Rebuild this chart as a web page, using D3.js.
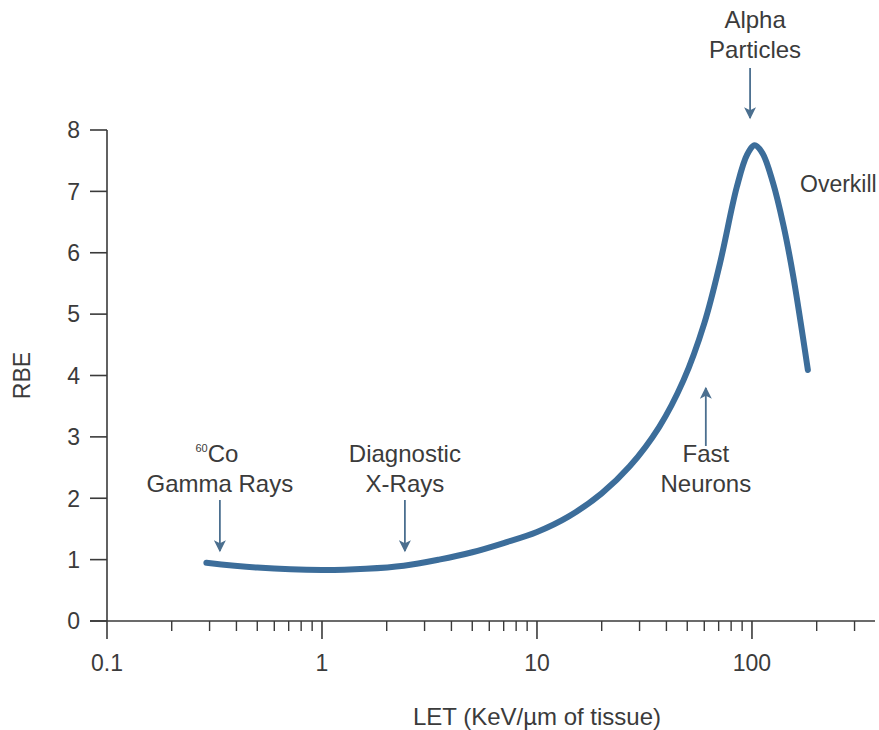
<!DOCTYPE html>
<html>
<head>
<meta charset="utf-8">
<script src="https://cdn.jsdelivr.net/npm/d3@7"></script>
<style>
  body { margin: 0; background: #fff; }
  text { font-family: "Liberation Sans", Arial, Helvetica, sans-serif; fill: #3b3b3b; }
</style>
</head>
<body>
<svg id="chart" width="879" height="730"></svg>
<script>
// curve (LET in KeV/um, RBE)
const letValues = [0.29, 0.5, 1, 1.6, 2.4, 3.5, 5, 7, 10, 14, 20, 27, 37, 48, 60, 71, 85, 95, 103, 112, 125, 140, 155, 182]
const rbeValues = [0.95, 0.87, 0.83, 0.85, 0.9, 1.0, 1.12, 1.27, 1.45, 1.7, 2.08, 2.52, 3.16, 3.92, 4.85, 5.83, 7.07, 7.6, 7.75, 7.62, 7.15, 6.45, 5.65, 4.09]

const yTicks = [0, 1, 2, 3, 4, 5, 6, 7, 8]
const xMajorTicks = [0.1, 1, 10, 100]
const xTickLabels = ['0.1', '1', '10', '100']

// annotations: label lines and LET position of the arrow
const noteLines = [['Alpha', 'Particles'], ['Gamma Rays'], ['Diagnostic', 'X-Rays'], ['Fast', 'Neurons']]
const noteLet = [98, 0.335, 2.43, 61]

const svg = d3.select('#chart')

const x = d3.scaleLog().domain([0.1, 354]).range([107, 870])
const y = d3.scaleLinear().domain([0, 8]).range([621, 130])

const axisColor = '#3a3a3a'
const curveColor = '#3c6d9a'
const arrowColor = '#4b6f8f'

// y axis
const yAxis = svg.append('g')
yAxis.append('line')
  .attr('x1', x(0.1)).attr('x2', x(0.1))
  .attr('y1', y(8)).attr('y2', y(0))
  .attr('stroke', axisColor).attr('stroke-width', 1.6)
yAxis.selectAll('.ytick')
  .data(yTicks)
  .enter()
  .append('line')
  .attr('class', 'ytick')
  .attr('x1', x(0.1) - 17).attr('x2', x(0.1))
  .attr('y1', d => y(d)).attr('y2', d => y(d))
  .attr('stroke', axisColor).attr('stroke-width', 1.6)
yAxis.selectAll('.ylab')
  .data(yTicks)
  .enter()
  .append('text')
  .attr('class', 'ylab')
  .attr('x', x(0.1) - 27)
  .attr('y', d => y(d))
  .attr('dy', '0.36em')
  .attr('text-anchor', 'end')
  .attr('font-size', 23)
  .text(d => d)

// x axis
const minorTicks = []
for (let dec = 0.1; dec < 354; dec *= 10) {
  for (let k = 2; k <= 9; k++) {
    if (dec * k <= 354) minorTicks.push(+(dec * k).toPrecision(3))
  }
}
const xAxis = svg.append('g')
xAxis.append('line')
  .attr('x1', x(0.1) - 17).attr('x2', 875)
  .attr('y1', y(0)).attr('y2', y(0))
  .attr('stroke', axisColor).attr('stroke-width', 1.6)
xAxis.selectAll('.xmajor')
  .data(xMajorTicks)
  .enter()
  .append('line')
  .attr('x1', d => x(d)).attr('x2', d => x(d))
  .attr('y1', y(0)).attr('y2', y(0) + 18)
  .attr('stroke', axisColor).attr('stroke-width', 1.6)
xAxis.selectAll('.xminor')
  .data(minorTicks)
  .enter()
  .append('line')
  .attr('x1', d => x(d)).attr('x2', d => x(d))
  .attr('y1', y(0)).attr('y2', y(0) + 10)
  .attr('stroke', axisColor).attr('stroke-width', 1.4)
xAxis.selectAll('.xlab')
  .data(xMajorTicks)
  .enter()
  .append('text')
  .attr('x', d => x(d))
  .attr('y', y(0) + 50)
  .attr('text-anchor', 'middle')
  .attr('font-size', 23)
  .text((d, i) => xTickLabels[i])

// axis titles
svg.append('text')
  .attr('transform', 'translate(30,' + y(4) + ') rotate(-90)')
  .attr('text-anchor', 'middle')
  .attr('font-size', 23)
  .text('RBE')
svg.append('text')
  .attr('x', x(10))
  .attr('y', 725)
  .attr('text-anchor', 'middle')
  .attr('font-size', 24)
  .text('LET (KeV/\u00b5m of tissue)')

// the RBE curve
const points = letValues.map((v, i) => [x(v), y(rbeValues[i])])
svg.append('path')
  .attr('d', d3.line().curve(d3.curveCatmullRom.alpha(0.5))(points))
  .attr('fill', 'none')
  .attr('stroke', curveColor)
  .attr('stroke-width', 6)
  .attr('stroke-linecap', 'round')

// arrows
svg.append('defs').append('marker')
  .attr('id', 'head')
  .attr('viewBox', '0 0 10 10')
  .attr('refX', 9).attr('refY', 5)
  .attr('markerWidth', 13).attr('markerHeight', 12)
  .attr('markerUnits', 'userSpaceOnUse')
  .attr('orient', 'auto')
  .append('path')
  .attr('d', 'M0,0 L10,5 L0,10 L2.5,5 Z')
  .attr('fill', arrowColor)

const arrowSpans = [[68, 118], [500, 551], [500, 551], [446, 388]]
svg.selectAll('.arrow')
  .data(noteLet)
  .enter()
  .append('line')
  .attr('class', 'arrow')
  .attr('x1', d => x(d)).attr('x2', d => x(d))
  .attr('y1', (d, i) => arrowSpans[i][0])
  .attr('y2', (d, i) => arrowSpans[i][1])
  .attr('stroke', arrowColor)
  .attr('stroke-width', 1.8)
  .attr('marker-end', 'url(#head)')

// labels
const labelBase = [28, 492, 462, 462]
noteLines.forEach((lines, i) => {
  const t = svg.append('text')
    .attr('text-anchor', 'middle')
    .attr('font-size', 24)
  lines.forEach((s, j) => {
    t.append('tspan')
      .attr('x', x(noteLet[i]) + (i === 0 ? 5 : 0))
      .attr('y', labelBase[i] + j * 30)
      .text(s)
  })
})

// 60Co with superscript
const co = svg.append('text')
  .attr('x', x(noteLet[1]) - 3)
  .attr('y', 462)
  .attr('text-anchor', 'middle')
  .attr('font-size', 24)
co.append('tspan').attr('font-size', 11).attr('dy', -10).text('60')
co.append('tspan').attr('dy', 10).text('Co')

svg.append('text')
  .attr('x', 800)
  .attr('y', 192)
  .attr('font-size', 23)
  .text('Overkill')
</script>
</body>
</html>
